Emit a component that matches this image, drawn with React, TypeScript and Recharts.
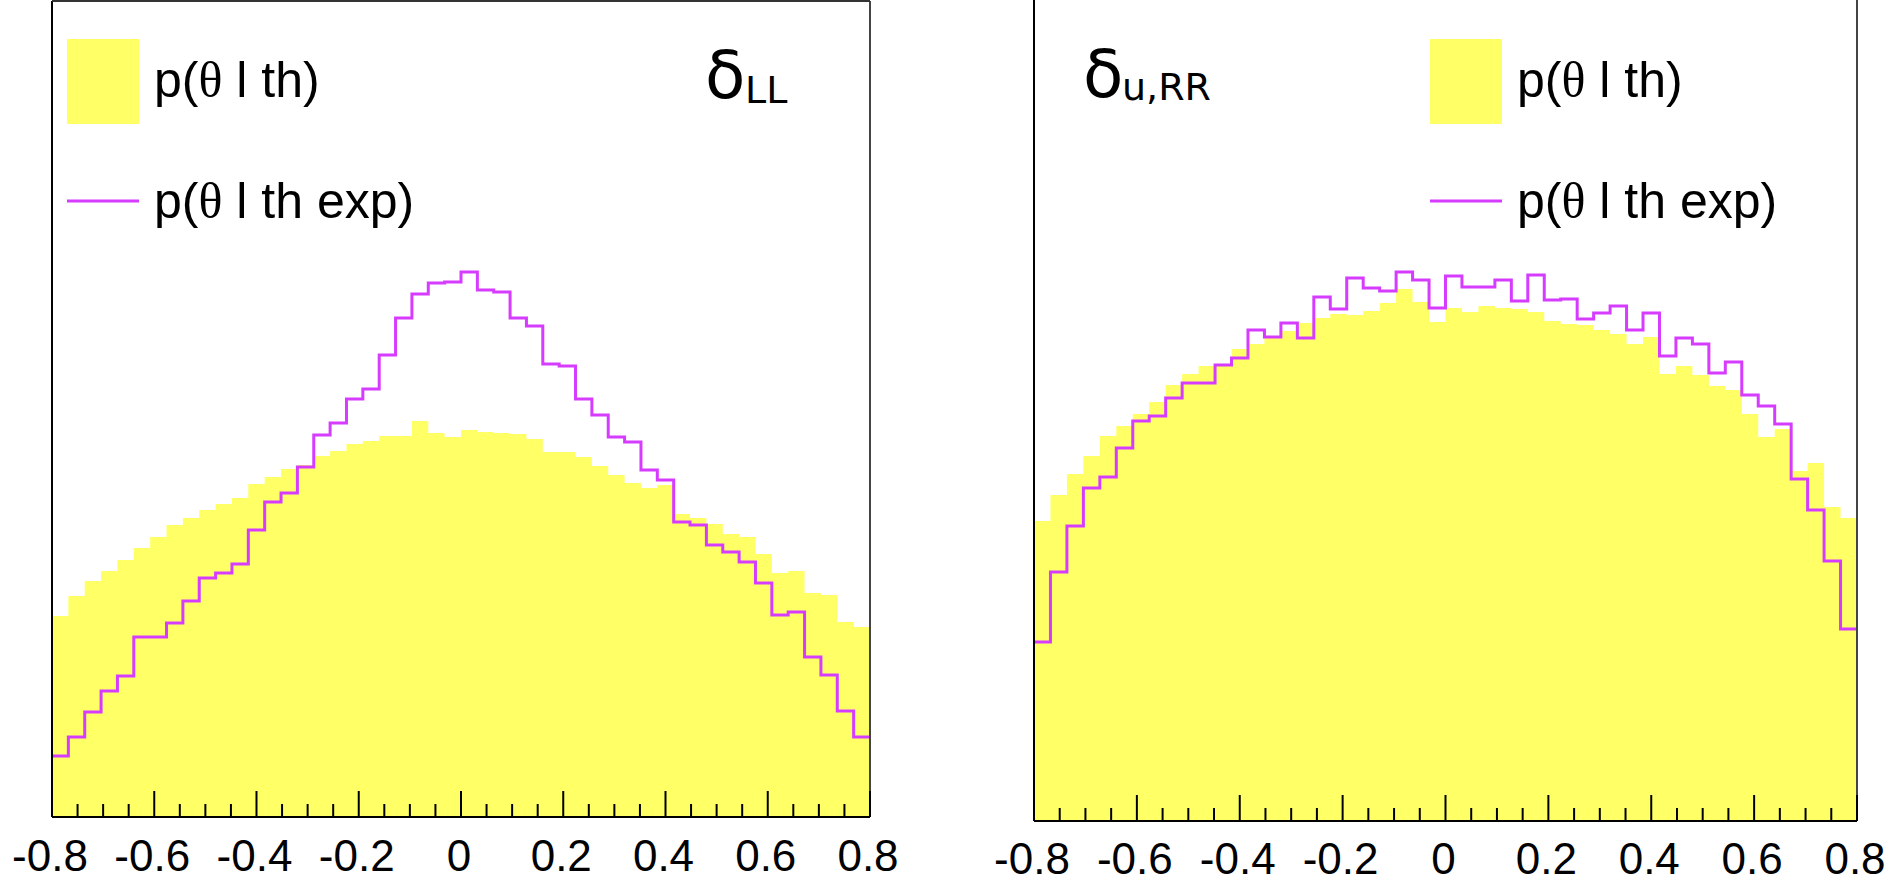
import { ComposedChart, Area, Line, XAxis, YAxis, ReferenceLine } from "recharts";

// 50 bins between -0.8 and 0.8, heights in arbitrary units
const X_MIN = -0.8;
const X_MAX = 0.8;
const N_BINS = 50;

const LL_TH = [
  201, 221, 236, 246, 257, 269, 280, 292, 299, 307,
  313, 319, 333, 340, 348, 352, 361, 366, 373, 376,
  381, 381, 396, 384, 380, 387, 385, 384, 383, 378,
  365, 365, 360, 351, 342, 334, 329, 332, 303, 299,
  293, 283, 280, 263, 244, 246, 224, 222, 195, 190,
];
const LL_EXP = [
  61, 80, 105, 126, 141, 180, 180, 194, 216, 239,
  244, 253, 287, 315, 324, 350, 382, 394, 418, 428,
  462, 499, 523, 534, 535, 545, 527, 525, 499, 491,
  453, 451, 418, 402, 380, 375, 347, 337, 295, 292,
  272, 265, 255, 234, 202, 205, 160, 142, 106, 80,
];
const URR_TH = [
  300, 326, 347, 365, 385, 395, 407, 419, 436, 447,
  455, 455, 472, 477, 483, 490, 498, 503, 507, 506,
  510, 518, 532, 519, 499, 513, 509, 515, 513, 512,
  509, 500, 497, 496, 491, 487, 477, 484, 447, 455,
  446, 435, 431, 407, 384, 392, 350, 358, 314, 303,
];
const URR_EXP = [
  179, 249, 295, 333, 344, 373, 400, 405, 423, 438,
  438, 456, 463, 491, 484, 498, 483, 524, 512, 543,
  533, 530, 549, 541, 513, 545, 534, 534, 541, 520,
  546, 521, 522, 502, 508, 515, 491, 508, 465, 483,
  477, 448, 459, 426, 415, 397, 342, 311, 260, 192,
];

const MAJOR_TICKS = [-0.8, -0.6, -0.4, -0.2, 0, 0.2, 0.4, 0.6, 0.8];
const TICK_LABELS = ["-0.8", "-0.6", "-0.4", "-0.2", "0", "0.2", "0.4", "0.6", "0.8"];
const MINOR_STEP = 0.05;

const YELLOW = "#ffff66";
const PURPLE = "#d63cff";
const FONT = "'Liberation Sans', Arial, Helvetica, sans-serif";

const ALL_TICKS: number[] = [];
for (let i = 0; i <= Math.round((X_MAX - X_MIN) / MINOR_STEP); i++) {
  ALL_TICKS.push(+(X_MIN + i * MINOR_STEP).toFixed(2));
}

// bin edges -> rows for stepAfter drawing (last edge repeats last bin)
const buildRows = (th: number[], exp: number[]) => {
  const w = (X_MAX - X_MIN) / N_BINS;
  const rows = [];
  for (let i = 0; i <= N_BINS; i++) {
    const k = Math.min(i, N_BINS - 1);
    rows.push({ x: +(X_MIN + i * w).toFixed(4), th: th[k], exp: exp[k] });
  }
  return rows;
};

const renderTick = (labelOffset: number) => (props: any) => {
  const { x, y, payload } = props;
  const idx = MAJOR_TICKS.findIndex((m) => Math.abs(m - payload.value) < 1e-6);
  const major = idx >= 0;
  return (
    <g>
      <line x1={x} x2={x} y1={y} y2={y - (major ? 26 : 13)} stroke="#000" strokeWidth={2} />
      {major && (
        <text x={x - 2} y={y + labelOffset} textAnchor="middle" fontFamily={FONT} fontSize={44} fill="#000">
          {TICK_LABELS[idx]}
        </text>
      )}
    </g>
  );
};

interface PanelProps {
  rows: { x: number; th: number; exp: number }[];
  left: number;
  width: number;
  marginLeft: number;
  marginRight: number;
  marginTop: number;
  axisHeight: number;
  yMax: number;
  topLine: boolean;
  labelOffset: number;
}

const Panel = ({ rows, left, width, marginLeft, marginRight, marginTop, axisHeight, yMax, topLine, labelOffset }: PanelProps) => (
  <div style={{ position: "absolute", left, top: 0 }}>
    <ComposedChart
      width={width}
      height={885}
      data={rows}
      margin={{ top: marginTop, right: marginRight, bottom: 0, left: marginLeft }}
    >
      <Area
        type="stepAfter"
        dataKey="th"
        fill={YELLOW}
        fillOpacity={1}
        stroke="none"
        isAnimationActive={false}
      />
      <Line
        type="stepAfter"
        dataKey="exp"
        stroke={PURPLE}
        strokeWidth={3}
        dot={false}
        isAnimationActive={false}
      />
      <XAxis
        type="number"
        dataKey="x"
        domain={[X_MIN, X_MAX]}
        ticks={ALL_TICKS}
        interval={0}
        tickLine={false}
        tickSize={0}
        tickMargin={0}
        tick={renderTick(labelOffset)}
        axisLine={{ stroke: "#000", strokeWidth: 2 }}
        height={axisHeight}
        allowDataOverflow
      />
      <YAxis hide type="number" domain={[0, yMax]} allowDataOverflow />
      <ReferenceLine x={X_MIN} stroke="#000" strokeWidth={2} />
      <ReferenceLine x={X_MAX} stroke="#444" strokeWidth={2} />
      {topLine && <ReferenceLine y={yMax} stroke="#333" strokeWidth={2} />}
    </ComposedChart>
  </div>
);

const Theta = () => <tspan fontFamily="'Liberation Serif', 'Times New Roman', serif">θ</tspan>;

const LegendBlock = ({ x, textX }: { x: number; textX: number }) => (
  <g>
    <rect x={x} y={39} width={72} height={85} fill={YELLOW} />
    <text x={textX} y={97} fontFamily={FONT} fontSize={50} fill="#000">
      p(<Theta /> l th)
    </text>
    <line x1={x} x2={x + 72} y1={201} y2={201} stroke={PURPLE} strokeWidth={3} />
    <text x={textX} y={218} fontFamily={FONT} fontSize={50} fill="#000">
      p(<Theta /> l th exp)
    </text>
  </g>
);

export default function App() {
  const llRows = buildRows(LL_TH, LL_EXP);
  const urrRows = buildRows(URR_TH, URR_EXP);
  return (
    <div style={{ position: "absolute", left: 0, top: 0, width: 1891, height: 885, background: "#fff", overflow: "hidden" }}>
      <Panel
        rows={llRows}
        left={0}
        width={930}
        marginLeft={52}
        marginRight={60}
        marginTop={1}
        axisHeight={68}
        yMax={816}
        topLine={true}
        labelOffset={54}
      />
      <Panel
        rows={urrRows}
        left={960}
        width={931}
        marginLeft={74}
        marginRight={34}
        marginTop={0}
        axisHeight={64}
        yMax={821}
        topLine={false}
        labelOffset={53}
      />
      <svg width={1891} height={885} style={{ position: "absolute", left: 0, top: 0, pointerEvents: "none" }}>
        <LegendBlock x={67} textX={154} />
        <LegendBlock x={1430} textX={1517} />
        <text x={705} y={98} fontFamily="'DejaVu Sans', sans-serif" fontSize={66} fill="#000">δ</text>
        <text x={745} y={103} fontFamily="'DejaVu Sans', sans-serif" fontSize={38} fill="#000">LL</text>
        <text x={1083} y={97} fontFamily="'DejaVu Sans', sans-serif" fontSize={66} fill="#000">δ</text>
        <text x={1122} y={100} fontFamily="'DejaVu Sans', sans-serif" fontSize={38} fill="#000">u,RR</text>
      </svg>
    </div>
  );
}
